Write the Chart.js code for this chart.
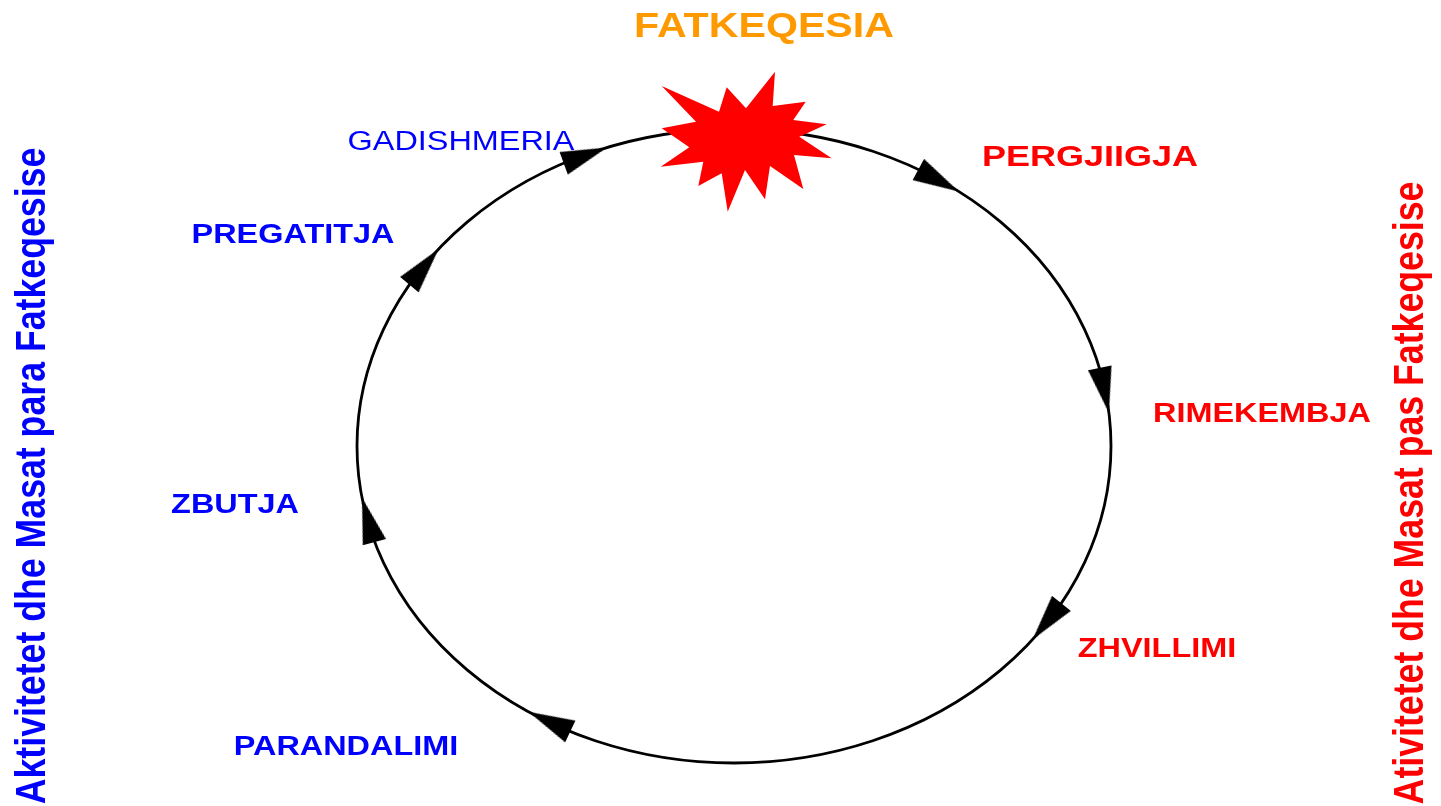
<!DOCTYPE html>
<html>
<head>
<meta charset="utf-8">
<script src="https://cdn.jsdelivr.net/npm/chart.js@4/dist/chart.umd.min.js"></script>
<style>
    html, body { margin: 0; padding: 0; background: #fff; overflow: hidden; }
    canvas { display: block; }
</style>
</head>
<body>
<canvas id="cycle" width="1441" height="806"></canvas>
<script>
// Fazat e ciklit
const stageNames = ['GADISHMERIA', 'PREGATITJA', 'ZBUTJA', 'PARANDALIMI', 'PERGJIIGJA', 'RIMEKEMBJA', 'ZHVILLIMI'];
const stageX = [461, 293, 235, 346, 1090, 1262, 1157];
const stageY = [150, 243, 513, 755, 166, 422, 657];
const stageGroup = ['para', 'para', 'para', 'para', 'pas', 'pas', 'pas'];

// Cikli (elipsi) dhe shigjetat mbi te (kendi ne grade)
const cycleCenter = [734, 446];
const cycleRadii = [377, 317];
const arrowAngles = [-53.4, -6, 37.6, 123, 170.6, 218.4, 250.3];

// Fatkeqesia
const eventName = 'FATKEQESIA';
const eventPoint = [746, 142];
const eventTitlePos = [764, 37];

// Titujt anesore
const sideTitles = ['Aktivitetet dhe Masat para Fatkeqesise', 'Ativitetet dhe Masat pas Fatkeqesise'];
const sideTitleX = [45, 1423];
const sideTitleY = [476, 493];

// stile
const FONT = '"Liberation Sans", Arial, sans-serif';
const STRETCH = 1.2;
const groupColor = { para: '#0000ff', pas: '#ff0000' };
const stageFont = ['27px', 'bold 27px', 'bold 27px', 'bold 27px', 'bold 30px', 'bold 27px', 'bold 27px'];

// maja e shigjetes
function makeArrowHead() {
    const len = 46, half = 12;
    const c = document.createElement('canvas');
    c.width = len * 2;
    c.height = half * 2 + 2;
    const g = c.getContext('2d');
    g.fillStyle = '#000';
    g.beginPath();
    g.moveTo(0, 1);
    g.lineTo(len, half + 1);
    g.lineTo(0, half * 2 + 1);
    g.closePath();
    g.fill();
    return c;
}

// forma e shperthimit
function makeStar() {
    const pts = [
        [-84.3, -56], [-27, -30.3], [-19.3, -54.7], [0, -33.7], [29, -70.3], [26.7, -36],
        [59.7, -40.3], [47.3, -22], [80.7, -17.7], [53.3, -5.3], [85.7, 16.3], [48, 13],
        [57.3, 47], [24, 24], [19, 57.3], [-1, 28], [-18.3, 69.7], [-24.3, 31.3],
        [-47.7, 44], [-42.7, 19.7], [-85.3, 24.7], [-56.7, 5.3], [-84.3, -13.7], [-50, -20.3]
    ];
    const c = document.createElement('canvas');
    c.width = 180;
    c.height = 150;
    const g = c.getContext('2d');
    g.fillStyle = '#ff0000';
    g.beginPath();
    pts.forEach((p, i) => {
        if (i === 0) g.moveTo(90 + p[0], 75 + p[1]);
        else g.lineTo(90 + p[0], 75 + p[1]);
    });
    g.closePath();
    g.fill();
    return c;
}

function tipPoint(deg) {
    const t = deg * Math.PI / 180;
    return { x: cycleCenter[0] + cycleRadii[0] * Math.cos(t), y: cycleCenter[1] + cycleRadii[1] * Math.sin(t) };
}

function arrowRotation(deg) {
    const t = deg * Math.PI / 180 - 0.065;
    const dx = -cycleRadii[0] * Math.sin(t);
    const dy = cycleRadii[1] * Math.cos(t);
    return Math.atan2(dy, dx) * 180 / Math.PI;
}

// vizaton elipsin nen shigjetat
const cyclePlugin = {
    id: 'cycle',
    beforeDatasetsDraw(chart) {
        const ctx = chart.ctx;
        const xs = chart.scales.x, ys = chart.scales.y;
        const cx = xs.getPixelForValue(cycleCenter[0]);
        const cy = ys.getPixelForValue(cycleCenter[1]);
        const rx = Math.abs(xs.getPixelForValue(cycleCenter[0] + cycleRadii[0]) - cx);
        const ry = Math.abs(ys.getPixelForValue(cycleCenter[1] + cycleRadii[1]) - cy);
        ctx.save();
        ctx.strokeStyle = '#000';
        ctx.lineWidth = 2.8;
        ctx.beginPath();
        ctx.ellipse(cx, cy, rx, ry, 0, 0, Math.PI * 2);
        ctx.stroke();
        ctx.restore();
    }
};

function stretchedText(ctx, text, x, y) {
    ctx.save();
    ctx.translate(x, y);
    ctx.scale(STRETCH, 1);
    ctx.fillText(text, 0, 0);
    ctx.restore();
}

// tekstet
const labelsPlugin = {
    id: 'labels',
    afterDatasetsDraw(chart) {
        const ctx = chart.ctx;
        const xs = chart.scales.x, ys = chart.scales.y;
        ctx.save();
        ctx.textAlign = 'center';
        ctx.textBaseline = 'alphabetic';

        ctx.fillStyle = '#ff9900';
        ctx.font = 'bold 34.3px ' + FONT;
        stretchedText(ctx, eventName, xs.getPixelForValue(eventTitlePos[0]), ys.getPixelForValue(eventTitlePos[1]));

        stageNames.forEach((name, i) => {
            ctx.fillStyle = groupColor[stageGroup[i]];
            ctx.font = stageFont[i] + ' ' + FONT;
            stretchedText(ctx, name, xs.getPixelForValue(stageX[i]), ys.getPixelForValue(stageY[i]));
        });

        sideTitles.forEach((title, i) => {
            ctx.save();
            ctx.fillStyle = i === 0 ? groupColor.para : groupColor.pas;
            ctx.font = 'bold 35.7px ' + FONT;
            ctx.translate(xs.getPixelForValue(sideTitleX[i]), ys.getPixelForValue(sideTitleY[i]));
            ctx.rotate(-Math.PI / 2);
            ctx.scale(1, STRETCH);
            ctx.fillText(title, 0, 0);
            ctx.restore();
        });
        ctx.restore();
    }
};

const chart = new Chart(document.getElementById('cycle').getContext('2d'), {
    type: 'scatter',
    data: {
        datasets: [
            {
                label: 'Shigjetat',
                data: arrowAngles.map(tipPoint),
                pointStyle: makeArrowHead(),
                rotation: arrowAngles.map(arrowRotation),
                pointRadius: 10
            },
            {
                label: eventName,
                data: [{ x: eventPoint[0], y: eventPoint[1] }],
                pointStyle: makeStar(),
                pointRadius: 10
            }
        ]
    },
    options: {
        responsive: false,
        animation: false,
        devicePixelRatio: 1,
        events: [],
        layout: { padding: 0, autoPadding: false },
        plugins: {
            legend: { display: false },
            tooltip: { enabled: false }
        },
        scales: {
            x: { type: 'linear', min: 0, max: 1441, display: false },
            y: { type: 'linear', min: 0, max: 806, reverse: true, display: false }
        }
    },
    plugins: [cyclePlugin, labelsPlugin]
});
</script>
</body>
</html>
